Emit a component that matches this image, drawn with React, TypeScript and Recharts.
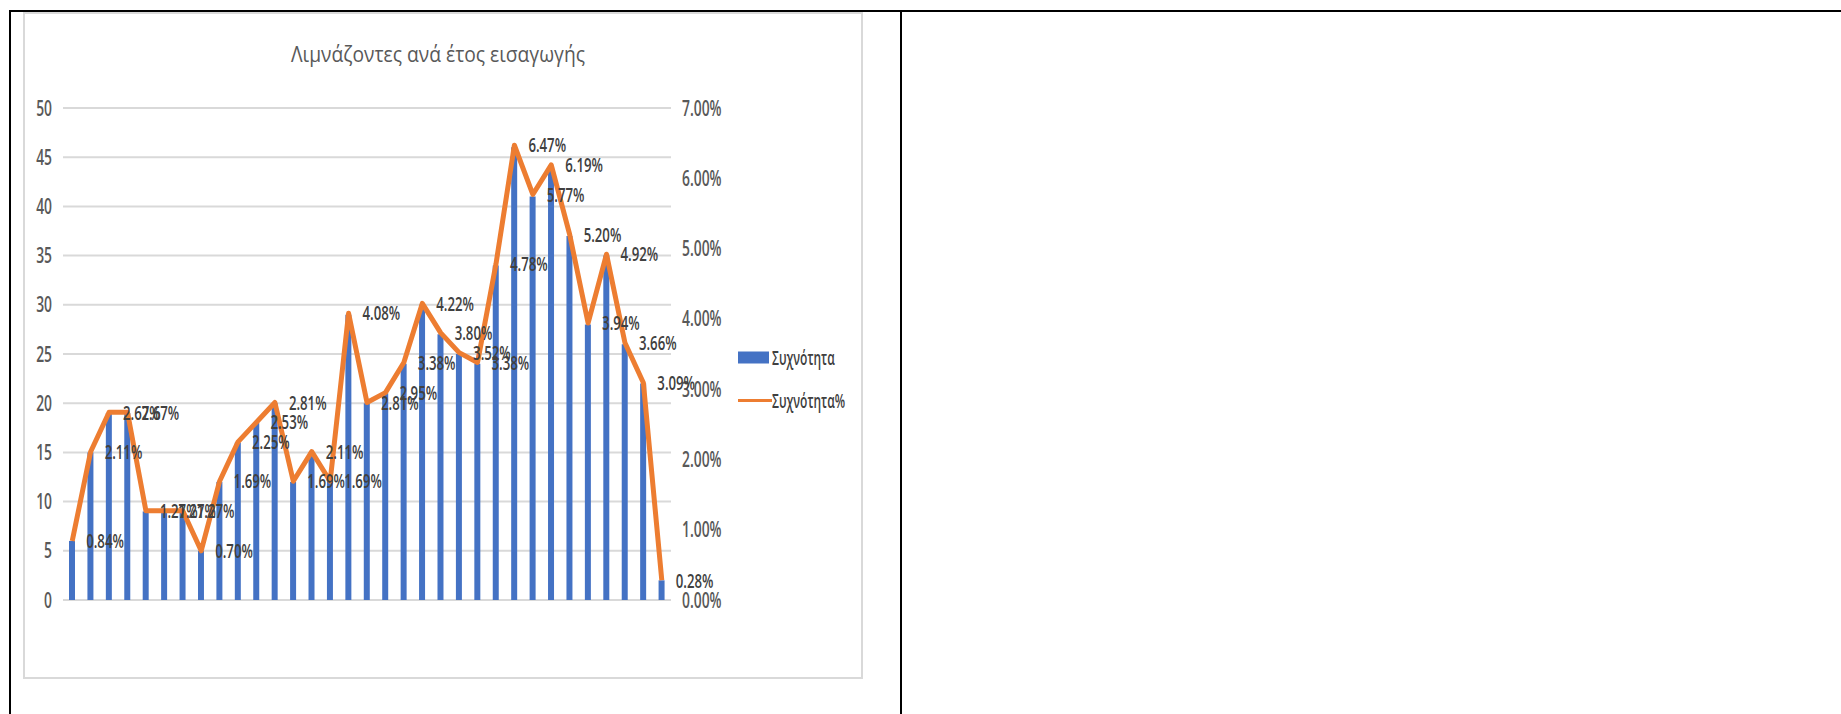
import React from 'react';
import {
  ComposedChart,
  Bar,
  Line,
  XAxis,
  YAxis,
  CartesianGrid,
  Legend,
  LabelList,
} from 'recharts';

// admissions per year (bars) and the share of the total (line, in %)
const counts = [
  6, 15, 19, 19, 9, 9, 9, 5, 12, 16, 18, 20, 12, 15, 12, 29, 20,
  21, 24, 30, 27, 25, 24, 34, 46, 41, 44, 37, 28, 35, 26, 22, 2,
];
const shares = [
  0.84, 2.11, 2.67, 2.67, 1.27, 1.27, 1.27, 0.7, 1.69, 2.25, 2.53, 2.81, 1.69, 2.11, 1.69, 4.08, 2.81,
  2.95, 3.38, 4.22, 3.8, 3.52, 3.38, 4.78, 6.47, 5.77, 6.19, 5.2, 3.94, 4.92, 3.66, 3.09, 0.28,
];
const countTicks = [0, 5, 10, 15, 20, 25, 30, 35, 40, 45, 50];
const shareTicks = [0, 1, 2, 3, 4, 5, 6, 7];

const TITLE = 'Λιμνάζοντες ανά έτος εισαγωγής';
const BAR_NAME = 'Συχνότητα';
const LINE_NAME = 'Συχνότητα%';

const BLUE = '#4472C4';
const ORANGE = '#ED7D31';
const GRID = '#D9D9D9';
const FONT = '"Open Sans", "Noto Sans", sans-serif';

const data = counts.map((count, i) => ({ name: String(i + 1), count, share: shares[i] }));

const pct = (v: number) => `${v.toFixed(2)}%`;

// the source picture has tall, narrow lettering, so squeeze the text horizontally
const SlimText = ({ x, y, anchor, size, squeeze = 0.66, color, children }: any) => (
  <text
    transform={`translate(${x},${y}) scale(${squeeze},1)`}
    textAnchor={anchor}
    dy="0.36em"
    fontFamily={FONT}
    fontSize={size}
    fontWeight={600}
    fill={color}
  >
    {children}
  </text>
);

const LeftTick = ({ x, y, payload }: any) => (
  <SlimText x={x} y={y} anchor="end" size={21} color="#595959">
    {payload.value}
  </SlimText>
);

const RightTick = ({ x, y, payload }: any) => (
  <SlimText x={x} y={y} anchor="start" size={21} color="#595959">
    {pct(payload.value)}
  </SlimText>
);

const ShareLabel = ({ x, y, value }: any) => (
  <SlimText x={x + 14} y={y} anchor="start" size={20} color="#404040">
    {pct(value)}
  </SlimText>
);

const LegendBox = () => (
  <svg width={110} height={86} style={{ overflow: 'visible' }}>
    <rect x={0} y={15.5} width={31} height={12} fill={BLUE} />
    <SlimText x={34} y={21.5} anchor="start" size={20} squeeze={0.6} color="#404040">
      {BAR_NAME}
    </SlimText>
    <line x1={0} x2={34} y1={64.5} y2={64.5} stroke={ORANGE} strokeWidth={3} />
    <SlimText x={34} y={64.5} anchor="start" size={20} squeeze={0.6} color="#404040">
      {LINE_NAME}
    </SlimText>
  </svg>
);

export default function App() {
  return (
    <div style={{ position: 'absolute', left: 0, top: 0, width: 1841, height: 714, background: '#fff' }}>
      {/* table borders */}
      <div style={{ position: 'absolute', left: 9, top: 10, width: 1832, height: 2, background: '#000' }} />
      <div style={{ position: 'absolute', left: 9, top: 10, width: 2, height: 704, background: '#000' }} />
      <div style={{ position: 'absolute', left: 900, top: 10, width: 2, height: 704, background: '#000' }} />

      {/* chart frame */}
      <div
        style={{
          position: 'absolute',
          left: 23,
          top: 12,
          width: 840,
          height: 667,
          border: `2px solid ${GRID}`,
          boxSizing: 'border-box',
        }}
      />

      <svg style={{ position: 'absolute', left: 0, top: 0 }} width={900} height={80}>
        <text
          x={438}
          y={62}
          textAnchor="middle"
          textLength={294}
          lengthAdjust="spacingAndGlyphs"
          fontFamily={FONT}
          fontSize={21}
          fill="#595959"
        >
          {TITLE}
        </text>
      </svg>

      <div style={{ position: 'absolute', left: 24, top: 13 }}>
        <ComposedChart
          width={837}
          height={665}
          data={data}
          margin={{ top: 95, right: 13, bottom: 78, left: 0 }}
        >
          <CartesianGrid yAxisId="left" vertical={false} stroke={GRID} strokeWidth={2} />
          <XAxis dataKey="name" hide />
          <YAxis
            yAxisId="left"
            orientation="left"
            width={39}
            domain={[0, 50]}
            ticks={countTicks}
            axisLine={false}
            tickLine={false}
            tickSize={0}
            tickMargin={11}
            tick={LeftTick}
          />
          <YAxis
            yAxisId="right"
            orientation="right"
            width={67}
            domain={[0, 7]}
            ticks={shareTicks}
            axisLine={false}
            tickLine={false}
            tickSize={0}
            tickMargin={11}
            tick={RightTick}
          />
          <Legend
            layout="vertical"
            align="right"
            verticalAlign="middle"
            content={LegendBox}
            wrapperStyle={{ top: 322.5, right: 13, width: 110, height: 86 }}
          />
          <Bar yAxisId="left" dataKey="count" name={BAR_NAME} fill={BLUE} barSize={6} isAnimationActive={false} />
          <Line
            yAxisId="right"
            dataKey="share"
            name={LINE_NAME}
            type="linear"
            stroke={ORANGE}
            strokeWidth={5}
            strokeLinejoin="round"
            dot={false}
            activeDot={false}
            isAnimationActive={false}
          >
            <LabelList dataKey="share" content={ShareLabel} />
          </Line>
        </ComposedChart>
      </div>
    </div>
  );
}
